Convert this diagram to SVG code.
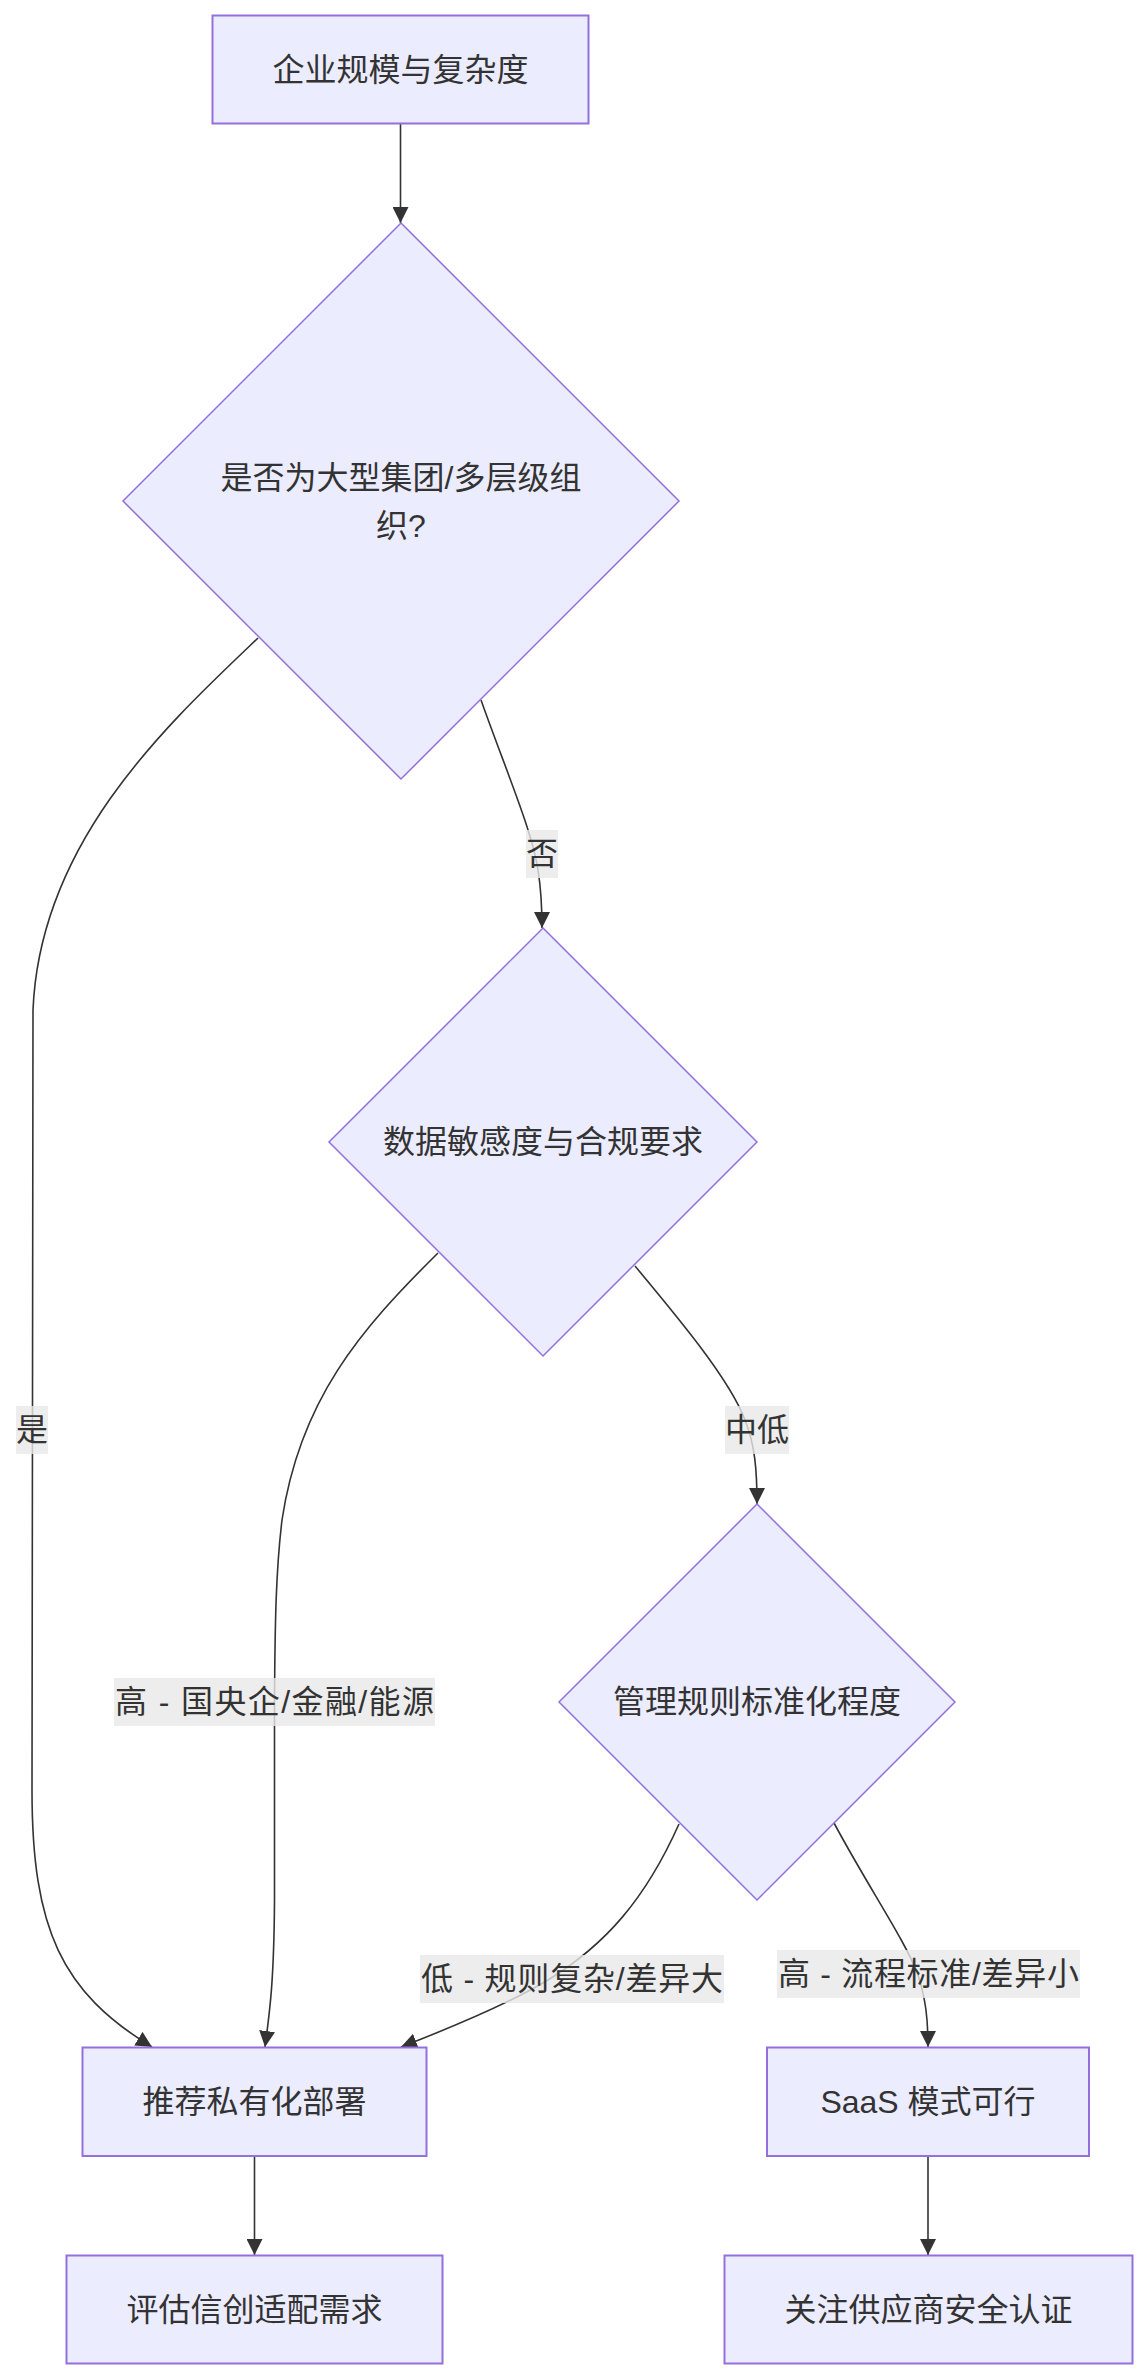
<svg xmlns="http://www.w3.org/2000/svg" width="1148" height="2380" viewBox="0 0 1148 2380">
<style>
.node rect,.node polygon{fill:#ECECFF;stroke:#9370DB;}
.node rect{stroke-width:2;}
.node polygon{stroke-width:1.5;}
.t{font-family:"Liberation Sans","Noto Sans CJK SC",sans-serif;font-size:32px;fill:#333;text-anchor:middle;}
.edge{fill:none;stroke:#333;stroke-width:1.6;}
.lbl rect{fill:#e8e8e8;fill-opacity:0.8;}
</style>
<defs>
<marker id="arr" viewBox="0 0 10 10" refX="10" refY="5" markerUnits="userSpaceOnUse" markerWidth="16" markerHeight="16" orient="auto">
<path d="M0,0 L10,5 L0,10 z" fill="#333"/>
</marker>
</defs>
<rect width="1148" height="2380" fill="#ffffff"/>
<g id="edges">
<path class="edge" marker-end="url(#arr)" d="M400.5,124 L400.5,223"/>
<path class="edge" marker-end="url(#arr)" d="M258,638 C170,722 40,840 33,1010 L32,1790 C32,1930 62,1992 152,2047"/>
<path class="edge" marker-end="url(#arr)" d="M481,700 C505,768 532,830 538,870 C542,895 542,912 542,928"/>
<path class="edge" marker-end="url(#arr)" d="M438,1253 C360,1330 300,1400 282,1520 C276,1570 275,1620 274.5,1700 L274.5,1900 C274,1980 270,2010 265,2047"/>
<path class="edge" marker-end="url(#arr)" d="M635,1266 C680,1320 730,1380 745,1420 C755,1445 757,1470 757,1504"/>
<path class="edge" marker-end="url(#arr)" d="M679,1824 C645,1900 605,1945 548,1980 C510,2003 450,2028 401,2047"/>
<path class="edge" marker-end="url(#arr)" d="M834,1823 C870,1890 905,1940 918,1975 C926,2000 928,2020 928,2047"/>
<path class="edge" marker-end="url(#arr)" d="M254.5,2156 L254.5,2255"/>
<path class="edge" marker-end="url(#arr)" d="M928,2156 L928,2255"/>
</g>
<g id="edge-labels">
<g class="lbl" id="l-no"><rect x="526" y="830" width="32" height="48"/><text class="t" x="542" y="865">否</text></g>
<g class="lbl" id="l-yes"><rect x="16" y="1406" width="32" height="48"/><text class="t" x="32" y="1441">是</text></g>
<g class="lbl" id="l-midlow"><rect x="725" y="1406" width="64" height="48"/><text class="t" x="757" y="1441">中低</text></g>
<g class="lbl" id="l-high1"><rect x="114" y="1678" width="321" height="48"/><text class="t" x="274.5" y="1713" textLength="319" lengthAdjust="spacing">高 - 国央企/金融/能源</text></g>
<g class="lbl" id="l-low"><rect x="420" y="1955" width="304" height="48"/><text class="t" x="572" y="1990" textLength="302" lengthAdjust="spacing">低 - 规则复杂/差异大</text></g>
<g class="lbl" id="l-high2"><rect x="777" y="1950" width="303" height="48"/><text class="t" x="928.5" y="1985" textLength="301" lengthAdjust="spacing">高 - 流程标准/差异小</text></g>
</g>
<g class="node" id="n-scale"><rect x="212.5" y="15.5" width="376" height="108"/><text class="t" x="400.5" y="81">企业规模与复杂度</text></g>
<g class="node" id="n-group"><polygon points="401,223 679,501 401,779 123,501"/><text class="t" x="401" y="489">是否为大型集团/多层级组</text><text class="t" x="401" y="537">织?</text></g>
<g class="node" id="n-data"><polygon points="543,928 757,1142 543,1356 329,1142"/><text class="t" x="543" y="1153">数据敏感度与合规要求</text></g>
<g class="node" id="n-rules"><polygon points="757,1504 955,1702 757,1900 559,1702"/><text class="t" x="757" y="1713">管理规则标准化程度</text></g>
<g class="node" id="n-private"><rect x="82.5" y="2047.5" width="344" height="108.5"/><text class="t" x="254.5" y="2113">推荐私有化部署</text></g>
<g class="node" id="n-saas"><rect x="767" y="2047.5" width="322" height="108.5"/><text class="t" x="928" y="2113">SaaS 模式可行</text></g>
<g class="node" id="n-xinchuang"><rect x="66.5" y="2255.5" width="376" height="108"/><text class="t" x="254.5" y="2321">评估信创适配需求</text></g>
<g class="node" id="n-security"><rect x="724.5" y="2255.5" width="408" height="108"/><text class="t" x="928.5" y="2321">关注供应商安全认证</text></g>
</svg>
